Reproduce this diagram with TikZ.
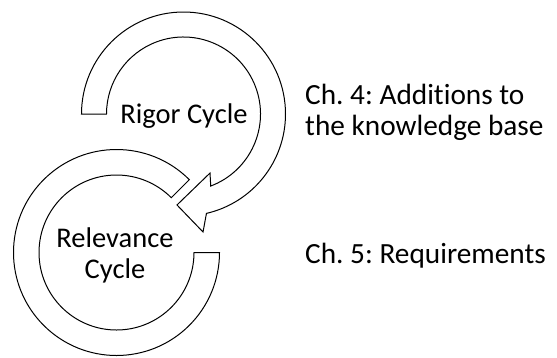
\documentclass[tikz,border=0pt]{standalone}
\usepackage{fontspec}
\setmainfont{Carlito}[Ligatures=NoCommon]
\usetikzlibrary{positioning,calc}
\frenchspacing

\begin{document}
\begin{tikzpicture}[x=1pt,y=1pt,
    ring/.style={draw=black, line width=1pt, fill=white, line join=miter},
    lbl/.style={font=\fontsize{28.5}{31}\selectfont, inner sep=0pt},
    chap/.style={font=\fontsize{29.3}{30.5}\selectfont, inner sep=0pt}]
\useasboundingbox (0,0) rectangle (557,-357);

% ring centres
\coordinate (rig) at (183.5,-114);
\coordinate (rel) at (116.5,-252.5);

% Relevance cycle
\draw[ring] ($(rel)+(45:103)$) arc[start angle=45, end angle=360, radius=103]
    -- ($(rel)+(0:77.5)$) arc[start angle=360, end angle=45, radius=77.5] -- cycle;

% Rigor cycle with arrow head
\draw[ring] ($(rig)+(180:102)$) arc[start angle=180, end angle=-77, radius=102]
    -- ($(rig)+(-80.6:119.6)$)
    -- ($(rig)+(-94.1:91.2)$)
    -- ($(rig)+(-65.8:64.7)$)
    -- ($(rig)+(-69.3:77)$) arc[start angle=-69.3, end angle=180, radius=77] -- cycle;

% Labels inside the cycles
\node[lbl, anchor=base] (rigor) at (184,-123.3) {Rigor Cycle};
\node[lbl, align=center,
    anchor=base
    ] (relevance) at (115,-278.3) {Relevance\\Cycle};

% Chapters
\node[chap, align=left,
    anchor=base west
    ] (ch4) at (305,-135) {Ch. 4: Additions to\\the knowledge base};
\node[chap, anchor=base west] (ch5) at (305,-263.3) {Ch. 5: Requirements};
\end{tikzpicture}
\end{document}
